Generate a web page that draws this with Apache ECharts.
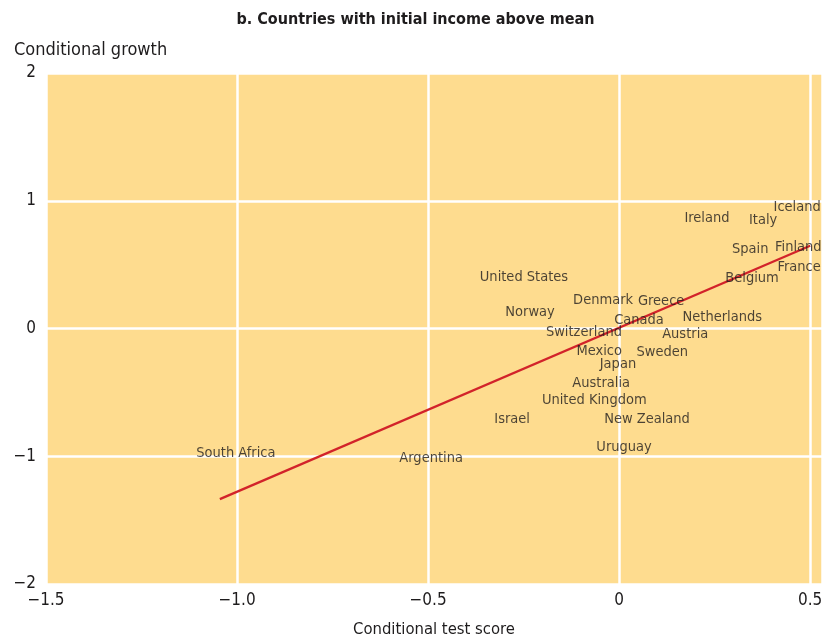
<!DOCTYPE html>
<html>
<head>
<meta charset="utf-8">
<script src="https://cdn.jsdelivr.net/npm/echarts@6/dist/echarts.min.js"></script>
<style>
html,body{margin:0;padding:0;background:#fff;}
#c{width:831px;height:639px;}
</style>
</head>
<body>
<div id="c"></div>
<script>
var countries = ["Iceland","Ireland","Italy","Spain","Finland","France","Belgium","United States","Denmark","Greece","Norway","Canada","Netherlands","Switzerland","Austria","Mexico","Sweden","Japan","Australia","United Kingdom","Israel","New Zealand","Uruguay","South Africa","Argentina"];
var testScore = [0.466,0.230,0.377,0.343,0.469,0.471,0.348,-0.249,-0.042,0.110,-0.233,0.052,0.270,-0.092,0.173,-0.052,0.113,-0.003,-0.047,-0.065,-0.280,0.073,0.013,-1.003,-0.492];
var growth = [0.961,0.875,0.867,0.633,0.648,0.492,0.406,0.414,0.234,0.227,0.141,0.078,0.102,-0.016,-0.031,-0.164,-0.172,-0.266,-0.414,-0.547,-0.695,-0.695,-0.914,-0.961,-1.000];
var fitX = [-1.045, 0.50];
var fitY = [-1.336, 0.648];
var xTicks = [-1.5,-1.0,-0.5,0,0.5];
var yTicks = [-2,-1,0,1,2];

var FONT = '"Liberation Sans Narrow","DejaVu Sans Condensed","Liberation Sans",sans-serif';
var TXT = '#1e1c1d';
function minus(s){return s.replace('-', '\u2212');}

var pts = countries.map(function(n,i){return {name:n, value:[testScore[i], growth[i]]};});
var fit = fitX.map(function(x,i){return [x, fitY[i]];});

var chart = echarts.init(document.getElementById('c'), null, {renderer:'canvas'});
chart.setOption({
  animation:false,
  backgroundColor:'#fff',
  title:[
    {text:'b. Countries with initial income above mean', left:'center', top:7,
     textStyle:{fontFamily:FONT, fontSize:16, fontWeight:'bold', color:TXT}},
    {text:'Conditional growth', left:9, top:36,
     textStyle:{fontFamily:FONT, fontSize:18, fontWeight:'normal', color:TXT}}
  ],
  grid:{left:46, right:9, top:73, bottom:55, outerBoundsMode:'none', containLabel:false,
        show:true, backgroundColor:'#fedc8f', borderWidth:0},
  xAxis:{type:'value', min:-1.5, max:0.531, interval:0.5,
    name:'Conditional test score', nameLocation:'middle', nameGap:37,
    nameTextStyle:{fontFamily:FONT, fontSize:16.5, color:TXT},
    axisLine:{show:false}, axisTick:{show:false},
    axisLabel:{fontFamily:FONT, fontSize:17, color:TXT, margin:8, showMaxLabel:false,
      formatter:function(v){ if (xTicks.indexOf(v)<0) return ''; return v===0?'0':minus(v.toFixed(1));}},
    splitLine:{show:true, lineStyle:{color:'#fff', width:2.5}}
  },
  yAxis:{type:'value', min:-2, max:2, interval:1,
    axisLine:{show:false}, axisTick:{show:false},
    axisLabel:{fontFamily:FONT, fontSize:17, color:TXT, margin:10,
      formatter:function(v){ if (yTicks.indexOf(v)<0) return ''; return minus(String(v));}},
    splitLine:{show:true, lineStyle:{color:'#fff', width:2.5}}
  },
  series:[
    {type:'line', data:fit, symbol:'none', lineStyle:{color:'#d2232a', width:2.3}, z:2, silent:true},
    {type:'scatter', data:pts, symbolSize:1, itemStyle:{color:'rgba(0,0,0,0)'}, z:3,
     label:{show:true, position:'inside', offset:[0,2], formatter:'{b}', fontFamily:FONT, fontSize:14.5, color:TXT}}
  ]
});
</script>
</body>
</html>
